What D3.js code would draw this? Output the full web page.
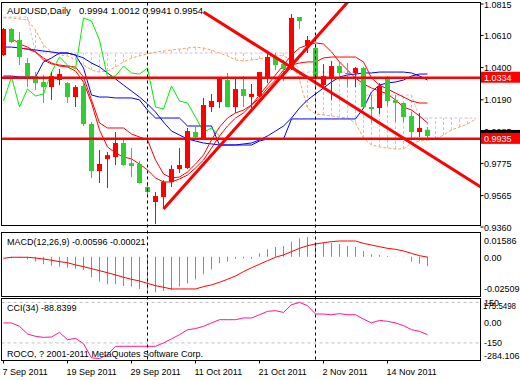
<!DOCTYPE html>
<html>
<head>
<meta charset="utf-8">
<script src="https://cdn.jsdelivr.net/npm/d3@7"></script>
<style>
  body { margin: 0; background: #fff; }
  svg text { font-family: "Liberation Sans", Arial, sans-serif; font-size: 9px; fill: #000; }
</style>
</head>
<body>
<svg id="chart" width="520" height="380"></svg>
<script>
// daily candles, 7 Sep 2011 .. 21 Nov 2011
var opens  = [1.0482,1.0652,1.0580,1.0430,1.0345,1.0306,1.0273,1.0319,1.0299,1.0208,1.0280,1.0032,0.9725,0.9803,0.9816,0.9908,0.9777,0.9771,0.9621,0.9523,0.9555,0.9653,0.9738,0.9745,0.9980,0.9934,1.0143,1.0175,1.0319,1.0143,1.0260,1.0208,1.0215,1.0332,1.0469,1.0423,1.0397,1.0730,1.0541,1.0528,1.0286,1.0339,1.0410,1.0365,1.0365,1.0397,1.0143,1.0136,1.0339,1.0188,1.0169,1.0084,0.9980,0.9994];
var highs  = [1.0658,1.0658,1.0632,1.0463,1.0371,1.0352,1.0371,1.0391,1.0306,1.0286,1.0306,1.0045,0.9862,0.9849,0.9980,0.9934,0.9875,0.9790,0.9653,0.9588,0.9666,0.9764,0.9875,1.0006,1.0019,1.0202,1.0228,1.0339,1.0365,1.0332,1.0345,1.0293,1.0371,1.0495,1.0495,1.0450,1.0750,1.0730,1.0606,1.0554,1.0423,1.0443,1.0436,1.0430,1.0404,1.0404,1.0221,1.0299,1.0345,1.0221,1.0172,1.0110,1.0104,1.0012];
var lows   = [1.0476,1.0560,1.0417,1.0273,1.0254,1.0169,1.0188,1.0286,1.0169,1.0143,1.0019,0.9679,0.9647,0.9614,0.9764,0.9760,0.9686,0.9643,0.9555,0.9379,0.9490,0.9621,0.9712,0.9738,0.9927,0.9927,1.0110,1.0136,1.0143,1.0104,1.0143,1.0136,1.0208,1.0299,1.0384,1.0312,1.0384,1.0652,1.0495,1.0267,1.0273,1.0188,1.0339,1.0273,1.0273,1.0140,1.0038,1.0097,1.0149,1.0045,1.0045,0.9940,0.9947,0.9941];
var closes = [1.0652,1.0567,1.0469,1.0332,1.0299,1.0273,1.0345,1.0358,1.0208,1.0273,1.0032,0.9725,0.9771,0.9829,0.9908,0.9764,0.9758,0.9647,0.9588,0.9562,0.9653,0.9738,0.9764,0.9986,0.9947,1.0156,1.0182,1.0339,1.0143,1.0260,1.0215,1.0228,1.0371,1.0469,1.0417,1.0391,1.0724,1.0704,1.0580,1.0339,1.0345,1.0410,1.0365,1.0358,1.0397,1.0143,1.0130,1.0280,1.0182,1.0169,1.0077,0.9980,1.0006,0.9954];

// overlays (price per bar)
var blueSteps  = [1.0345,1.0345,1.0339,1.0339,1.0339,1.0437,1.0463,1.0495,1.0495,1.0482,1.0397,1.0221,1.0208,1.0208,1.0202,1.0202,1.0202,1.0189,1.0123,1.0071,1.0071,1.0071,1.0071,1.0019,1.0019,1.0019,1.0019,0.9895,0.9895,0.9895,0.9895,0.9895,0.9921,0.9934,0.9934,0.9934,1.0065,1.0065,1.0065,1.0065,1.0065,1.0065,1.0065,1.0065,1.0065,1.0136,1.0241,1.0286,1.0300,1.0306,1.0319,1.0345,1.0358,1.0358];
var blueSmooth = [1.0534,1.0534,1.0528,1.0521,1.0515,1.0508,1.0502,1.0495,1.0495,1.0482,1.0463,1.0430,1.0404,1.0365,1.0326,1.0286,1.0247,1.0208,1.0163,1.0110,1.0045,0.9986,0.9960,0.9934,0.9921,0.9908,0.9902,0.9895,0.9895,0.9895,0.9902,0.9908,0.9928,0.9954,0.9986,1.0019,1.0071,1.0136,1.0189,1.0228,1.0267,1.0306,1.0339,1.0352,1.0358,1.0365,1.0365,1.0371,1.0371,1.0371,1.0371,1.0365,1.0345,1.0319];
var redUpper   = [null,null,1.0528,1.0521,1.0502,1.0450,1.0424,1.0417,1.0410,1.0404,1.0339,1.0189,1.0039,1.0006,1.0006,1.0006,0.9967,0.9947,0.9928,0.9797,0.9706,0.9680,0.9686,0.9719,0.9771,0.9830,0.9928,1.0012,1.0071,1.0104,1.0123,1.0156,1.0202,1.0267,1.0319,1.0384,1.0417,1.0430,1.0437,1.0437,1.0463,1.0469,1.0469,1.0469,1.0469,1.0437,1.0332,1.0286,1.0260,1.0234,1.0208,1.0182,1.0169,1.0169];
var redLower   = [null,1.0593,1.0554,1.0534,1.0502,1.0463,1.0430,1.0410,1.0404,1.0378,1.0306,1.0169,0.9993,0.9882,0.9843,0.9817,0.9804,0.9771,0.9732,0.9680,0.9654,0.9654,0.9673,0.9699,0.9745,0.9797,0.9875,0.9954,1.0019,1.0071,1.0104,1.0156,1.0221,1.0286,1.0352,1.0417,1.0482,1.0528,1.0547,1.0561,1.0554,1.0502,1.0437,1.0384,1.0332,1.0293,1.0267,1.0247,1.0228,1.0189,1.0143,1.0123,1.0084,1.0039];
var chikou     = [1.0182,1.0339,1.0143,1.0260,1.0215,1.0228,1.0371,1.0469,1.0417,1.0391,1.0724,1.0704,1.0580,1.0339,1.0345,1.0410,1.0365,1.0358,1.0397,1.0143,1.0130,1.0280,1.0182,1.0169,1.0077,0.9980,1.0006,0.9954];
var spanA = [1.0724,1.0724,1.0717,1.0711,1.0645,1.0547,1.0502,1.0482,1.0476,1.0450,1.0417,1.0384,1.0371,1.0378,1.0404,1.0436,1.0463,1.0476,1.0489,1.0502,1.0508,1.0515,1.0521,1.0528,1.0534,1.0528,1.0515,1.0495,1.0476,1.0450,1.0443,1.0450,1.0456,1.0469,1.0482,1.0476,1.0450,1.0319,1.0136,1.0097,1.0091,1.0084,1.0077,1.0071,1.0038,0.9940,0.9895,0.9882,0.9875,0.9869,0.9869,0.9908,0.9921,0.9927,0.9934,0.9960,0.9993,1.0012,1.0032,1.0064];
var spanB = [1.0730,1.0730,1.0730,1.0730,1.0495,1.0495,1.0495,1.0495,1.0495,1.0495,1.0495,1.0495,1.0495,1.0495,1.0495,1.0495,1.0495,1.0495,1.0495,1.0495,1.0495,1.0495,1.0495,1.0495,1.0495,1.0495,1.0495,1.0495,1.0495,1.0495,1.0495,1.0495,1.0495,1.0495,1.0495,1.0495,1.0495,1.0371,1.0371,1.0371,1.0371,1.0371,1.0371,1.0371,1.0371,1.0221,1.0221,1.0221,1.0221,1.0221,1.0221,1.0221,1.0071,1.0071,1.0071,1.0071,1.0071,1.0071,1.0071,1.0071];

// hand-drawn objects: horizontal levels and trend lines [barIndex, price]
var levels = [1.0334, 0.9935];
var trendUp   = [[20, 0.9477], [40, 1.0650]];
var trendDown = [[25, 1.0763], [45, 1.0104]];
var separators = [18, 39];

// MACD(12,26,9) and CCI(34)
var macdMain = [-0.0003,-0.0010,-0.0005,-0.0016,-0.0031,-0.0048,-0.0057,-0.0063,-0.0070,-0.0076,-0.0084,-0.0131,-0.0159,-0.0176,-0.0176,-0.0187,-0.0191,-0.0206,-0.0214,-0.0227,-0.0219,-0.0212,-0.0191,-0.0170,-0.0144,-0.0112,-0.0080,-0.0042,-0.0031,-0.0012,-0.0010,-0.0012,0.0022,0.0048,0.0063,0.0069,0.0097,0.0118,0.0127,0.0086,0.0090,0.0090,0.0082,0.0069,0.0063,0.0037,0.0016,0.0012,0.0005,0.0002,-0.0002,-0.0031,-0.0044,-0.00596];
var macdSignal = [-0.0010,-0.0003,-0.0003,-0.0003,-0.0008,-0.0014,-0.0022,-0.0031,-0.0038,-0.0052,-0.0063,-0.0076,-0.0089,-0.0102,-0.0116,-0.0131,-0.0144,-0.0155,-0.0170,-0.0185,-0.0195,-0.0206,-0.0206,-0.0206,-0.0206,-0.0191,-0.0180,-0.0163,-0.0144,-0.0123,-0.0095,-0.0070,-0.0048,-0.0025,-0.0003,0.0012,0.0033,0.0054,0.0071,0.0082,0.0090,0.0097,0.0101,0.0101,0.0101,0.0086,0.0075,0.0065,0.0054,0.0048,0.0037,0.0022,0.0007,-0.00021];
var cci = [-2,-2,-27,-84,-101,-109,-106,-72,-126,-116,-155,-261,-266,-237,-175,-175,-175,-175,-175,-175,-150,-120,-89,-52,-44,-27,-2,22,22,22,35,35,59,84,89,76,133,150,126,64,64,59,67,59,59,27,-2,17,10,-2,-22,-52,-64,-88.8399];

var priceTicks = [1.0815, 1.0610, 1.0400, 1.0190, 0.9985, 0.9775, 0.9565, 0.9360];
var macdTicks = [0.01586, 0, -0.02509];
var cciTicks = [175.5498, 150, 0, -150, -284.106];
var cciLevels = [150, -150];
var dateTicks = [0, 8, 16, 24, 32, 40, 48];
var dateLabels = ["7 Sep 2011", "19 Sep 2011", "29 Sep 2011", "11 Oct 2011", "21 Oct 2011", "2 Nov 2011", "14 Nov 2011"];

var svg = d3.select("#chart");
var RED = "#ff0000", GREEN = "#32cd32";
var left = 1.5, right = 480.5;
var mainTop = 2.5, mainBot = 225.5, macdTop = 232.5, macdBot = 296.5, cciTop = 298.5, cciBot = 360.5;

var x = d3.scaleLinear().domain([0, 59]).range([3.5, 475.5]);
var y = d3.scaleLinear().domain([0.9360, 1.0815]).range([227, 4]);
var yM = d3.scaleLinear().domain([-0.02509, 0.01586]).range([296, 232]);
var yC = d3.scaleLinear().domain([-284.106, 175.5498]).range([361, 299]);

var defs = svg.append("defs");
function clip(id, t, b) {
  defs.append("clipPath").attr("id", id).append("rect")
    .attr("x", left + 0.5).attr("y", t + 0.5).attr("width", right - left - 1).attr("height", b - t - 1);
}
clip("cMain", mainTop, mainBot);
clip("cMacd", macdTop, macdBot);
clip("cCci", cciTop, cciBot);

var gMain = svg.append("g").attr("clip-path", "url(#cMain)");
var gMacd = svg.append("g").attr("clip-path", "url(#cMacd)");
var gCci = svg.append("g").attr("clip-path", "url(#cCci)");

function pathOf(arr, ys) {
  return d3.line().defined(function(d){ return d != null; })
    .x(function(d, i){ return x(i); }).y(function(d){ return ys(d); })(arr);
}

// cloud: dashed hatch between the spans
spanA.forEach(function(a, i){
  gMain.append("line").attr("x1", x(i)).attr("x2", x(i))
    .attr("y1", y(a)).attr("y2", y(spanB[i]))
    .attr("stroke", "#d8bfd8").attr("stroke-dasharray", "3,2");
});
gMain.append("path").attr("d", pathOf(spanB, y)).attr("fill", "none")
  .attr("stroke", "#d8bfd8").attr("stroke-dasharray", "3,2");
gMain.append("path").attr("d", pathOf(spanA, y)).attr("fill", "none")
  .attr("stroke", "#f4a460").attr("stroke-dasharray", "3,2");

// indicator lines
[[blueSteps, "#0000ff"], [blueSmooth, "#0000ff"], [redUpper, RED], [redLower, RED], [chikou, "#00ee00"]]
  .forEach(function(s){
    gMain.append("path").attr("d", pathOf(s[0], y)).attr("fill", "none")
      .attr("stroke", s[1]).attr("stroke-width", 1);
  });

// candles
var candles = gMain.selectAll("g.candle").data(opens).enter().append("g");
candles.append("line")
  .attr("x1", function(d, i){ return x(i); }).attr("x2", function(d, i){ return x(i); })
  .attr("y1", function(d, i){ return y(highs[i]); }).attr("y2", function(d, i){ return y(lows[i]); })
  .attr("stroke", function(d, i){ return closes[i] >= d ? RED : GREEN; });
candles.append("rect")
  .attr("x", function(d, i){ return x(i) - 2.5; }).attr("width", 5)
  .attr("y", function(d, i){ return y(Math.max(d, closes[i])); })
  .attr("height", function(d, i){ return Math.max(1, Math.abs(y(d) - y(closes[i]))); })
  .attr("fill", function(d, i){ return closes[i] >= d ? RED : GREEN; });

// horizontal levels and trend lines
levels.forEach(function(p){
  gMain.append("line").attr("x1", left).attr("x2", right).attr("y1", y(p)).attr("y2", y(p))
    .attr("stroke", RED).attr("stroke-width", 2.5);
});
function ray(tl){
  var s = (tl[1][1] - tl[0][1]) / (tl[1][0] - tl[0][0]);
  var end = 70;
  gMain.append("line").attr("x1", x(tl[0][0])).attr("y1", y(tl[0][1]))
    .attr("x2", x(end)).attr("y2", y(tl[0][1] + s * (end - tl[0][0])))
    .attr("stroke", RED).attr("stroke-width", 3);
}
ray(trendUp);
ray(trendDown);

// MACD
macdMain.forEach(function(v, i){
  gMacd.append("line").attr("x1", x(i)).attr("x2", x(i)).attr("y1", yM(0)).attr("y2", yM(v))
    .attr("stroke", GREEN);
});
gMacd.append("path").attr("d", pathOf(macdSignal, yM)).attr("fill", "none").attr("stroke", RED);

// CCI
cciLevels.forEach(function(l){
  gCci.append("line").attr("x1", left).attr("x2", right).attr("y1", yC(l)).attr("y2", yC(l))
    .attr("stroke", "#c0c0c0").attr("stroke-dasharray", "3,3");
});
gCci.append("path").attr("d", pathOf(cci, yC)).attr("fill", "none").attr("stroke", "#ff1493");

// period separators
separators.forEach(function(i){
  svg.append("line").attr("x1", x(i)).attr("x2", x(i)).attr("y1", mainTop).attr("y2", cciBot)
    .attr("stroke", "#000").attr("stroke-dasharray", "3,3");
});

// frames
[[mainTop, mainBot], [macdTop, macdBot], [cciTop, cciBot]].forEach(function(p){
  svg.append("rect").attr("x", left).attr("y", p[0]).attr("width", right - left).attr("height", p[1] - p[0])
    .attr("fill", "none").attr("stroke", "#000");
});

// right price axis
priceTicks.forEach(function(p){
  svg.append("line").attr("x1", right).attr("x2", right + 3).attr("y1", y(p)).attr("y2", y(p)).attr("stroke", "#000");
  svg.append("text").attr("x", 484).attr("y", y(p) + 3.5).text(p.toFixed(4));
});
function tag(p, bg){
  var g = svg.append("g");
  g.append("rect").attr("x", 481).attr("y", y(p) - 6).attr("width", 39).attr("height", 11).attr("fill", bg);
  g.append("text").attr("x", 484).attr("y", y(p) + 3.5).style("fill", "#fff").text(p.toFixed(4));
}
tag(closes[closes.length - 1], "#000");
levels.forEach(function(p){ tag(p, RED); });

// MACD and CCI scales
var macdY = [240, yM(0) + 1, 288];
macdTicks.forEach(function(v, k){
  svg.append("text").attr("x", 484).attr("y", macdY[k] + 3.5).text(v === 0 ? "0.00" : v.toFixed(5));
});
var cciY = [305, 302, 322.5, 342.5, 355.5];
cciTicks.forEach(function(v, k){
  var t = v === 0 ? "0.00" : (k === 0 ? v.toFixed(4) : (k === 4 ? v.toFixed(3) : String(v)));
  var el = svg.append("text").attr("x", k === 0 ? 483 : 484).attr("y", cciY[k] + 3.5).text(t);
  if (k === 0) el.attr("textLength", 33).attr("lengthAdjust", "spacingAndGlyphs");
});

// dates
dateTicks.forEach(function(i, k){
  svg.append("line").attr("x1", x(i)).attr("x2", x(i)).attr("y1", cciBot).attr("y2", cciBot + 3).attr("stroke", "#000");
  svg.append("text").attr("x", x(i) - 1).attr("y", 375).text(dateLabels[k]);
});

// captions
var last = opens.length - 1;
svg.append("text").attr("x", 7).attr("y", 14).style("font-size", "9.5px").text("AUDUSD,Daily");
svg.append("text").attr("x", 79).attr("y", 14).style("font-size", "9.5px")
  .text([opens[last], highs[last], lows[last], closes[last]].map(function(v){ return v.toFixed(4); }).join(" "));
svg.append("text").attr("x", 7).attr("y", 245)
  .text("MACD(12,26,9) " + macdMain[last].toFixed(5) + " " + macdSignal[last].toFixed(5));
svg.append("text").attr("x", 7).attr("y", 311).text("CCI(34) " + cci[last].toFixed(4));
svg.append("text").attr("x", 7).attr("y", 357).text("ROCO, ? 2001-2011 MetaQuotes Software Corp.");
</script>
</body>
</html>
